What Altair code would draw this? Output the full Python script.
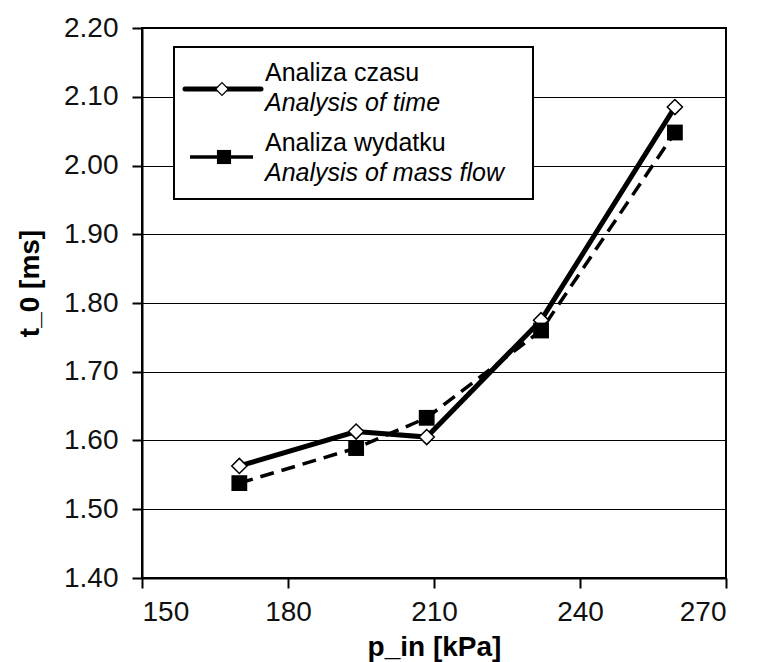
import altair as alt
import pandas as pd

# data
p_in = [170, 194, 208.5, 232, 259.5]
t_time = [1.563, 1.613, 1.605, 1.775, 2.085]   # Analiza czasu / Analysis of time
t_flow = [1.538, 1.589, 1.633, 1.760, 2.048]   # Analiza wydatku / Analysis of mass flow
x_ticks = [150, 180, 210, 240, 270]
y_ticks = [1.4, 1.5, 1.6, 1.7, 1.8, 1.9, 2.0, 2.1, 2.2]

df_time = pd.DataFrame({"p": p_in, "t": t_time})
df_flow = pd.DataFrame({"p": p_in, "t": t_flow})

FONT = "Liberation Sans"
W, H = 584, 550

x_enc = alt.X("p:Q", scale=alt.Scale(domain=[150, 270], nice=False),
              axis=alt.Axis(values=x_ticks, title="p_in [kPa]", grid=False,
                            titleY=77, titleBaseline="alphabetic"))
y_enc = alt.Y("t:Q", scale=alt.Scale(domain=[1.4, 2.2], nice=False, zero=False),
              axis=alt.Axis(values=y_ticks, format=".2f", title="t_0 [ms]", grid=True,
                            titleX=-112, titleY=255, titleBaseline="middle", titleAngle=-90))

line_time = alt.Chart(df_time).mark_line(color="black", strokeWidth=5).encode(x=x_enc, y=y_enc)
line_flow = alt.Chart(df_flow).mark_line(color="black", strokeWidth=3.5,
                                         strokeDash=[14, 8]).encode(x=x_enc, y=y_enc)
pts_time = alt.Chart(df_time).mark_point(shape="diamond", size=230, filled=True, fill="white",
                                         stroke="black", strokeWidth=1.5, opacity=1).encode(x=x_enc, y=y_enc)
pts_flow = alt.Chart(df_flow).mark_point(shape="square", size=250, filled=True, color="black",
                                         opacity=1).encode(x=x_enc, y=y_enc)

# legend (drawn as a box with sample symbols and two-line labels)
one = pd.DataFrame({"k": [0]})
base = alt.Chart(one)
leg_box = base.mark_rect(fill="white", stroke="black", strokeWidth=2).encode(
    x=alt.value(32), x2=alt.value(391), y=alt.value(19), y2=alt.value(171))
leg_l1 = base.mark_rule(color="black", strokeWidth=5, strokeCap="round").encode(
    x=alt.value(43), x2=alt.value(119), y=alt.value(61))
leg_p1 = base.mark_point(shape="diamond", size=160, filled=True, fill="white", stroke="black",
                         strokeWidth=1.2, opacity=1).encode(x=alt.value(80), y=alt.value(61))
leg_l2 = base.mark_rule(color="black", strokeWidth=3.5).encode(
    x=alt.value(48), x2=alt.value(111), y=alt.value(129))
leg_p2 = base.mark_point(shape="square", size=200, filled=True, color="black",
                         opacity=1).encode(x=alt.value(82), y=alt.value(129))

def txt(s, y, italic=False):
    return base.mark_text(text=s, font=FONT, fontSize=25, align="left", baseline="middle",
                          fontStyle="italic" if italic else "normal", color="black").encode(
        x=alt.value(123), y=alt.value(y))

leg_txt = [txt("Analiza czasu", 45), txt("Analysis of time", 75, True),
           txt("Analiza wydatku", 115), txt("Analysis of mass flow", 145, True)]

chart = alt.layer(line_flow, line_time, pts_time, pts_flow, leg_box, leg_l1, leg_p1,
                  leg_l2, leg_p2, *leg_txt).properties(
    width=W, height=H,
    autosize=alt.AutoSizeParams(type="none"),
    padding={"left": 142, "top": 28, "right": 44, "bottom": 84},
    background="white",
).configure_view(stroke="black", strokeWidth=2).configure_axis(
    labelFont=FONT, labelFontSize=28, labelColor="#111",
    titleFont=FONT, titleFontSize=28, titleFontWeight="bold", titleColor="black",
    domainColor="black", domainWidth=2, tickColor="black", tickWidth=2, tickSize=10,
    gridColor="black", gridWidth=1.2, gridOpacity=1,
).configure_axisY(labelPadding=14).configure_axisX(labelPadding=10)

chart.save("out.html", embed_options={"renderer": "svg", "actions": False})
